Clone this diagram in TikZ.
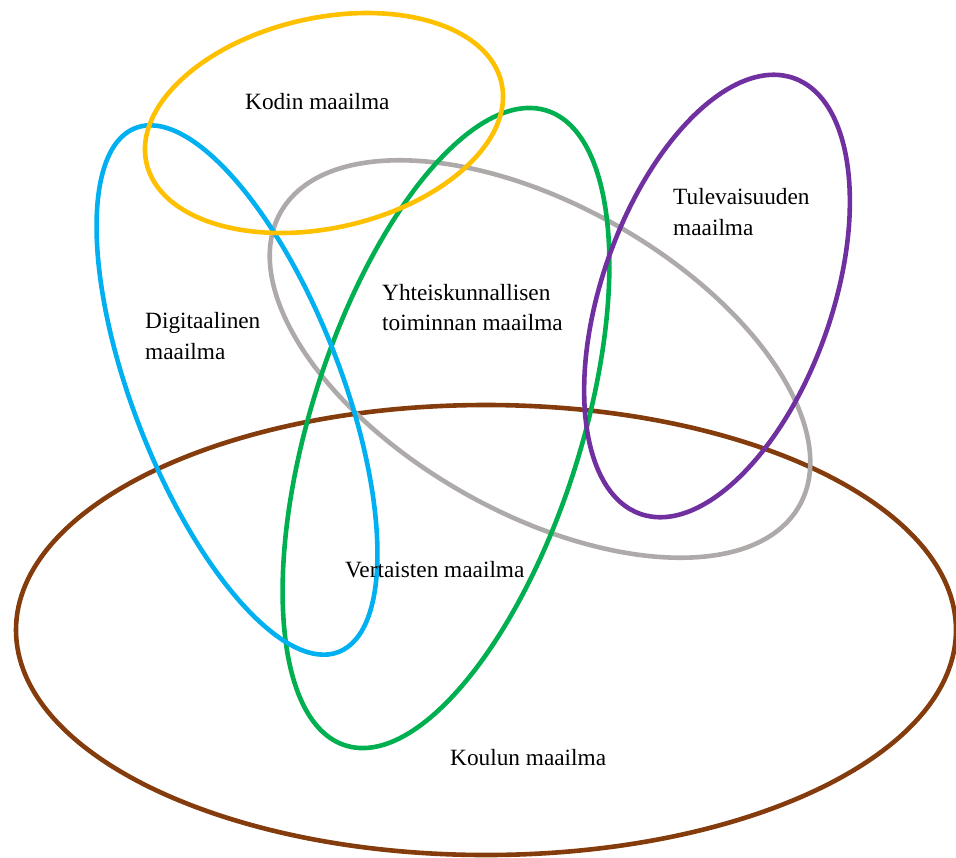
\documentclass[tikz,border=0pt]{standalone}
\usepackage{fontspec}
\setmainfont{Liberation Serif}
\definecolor{cyellow}{HTML}{FFC000}
\definecolor{cblue}{HTML}{00B0F0}
\definecolor{cgreen}{HTML}{00B050}
\definecolor{cpurple}{HTML}{7030A0}
\definecolor{cgray}{HTML}{AEAAAA}
\definecolor{cbrown}{HTML}{843C0C}
\tikzset{
  ring/.style={line width=4.6pt},
  lbl/.style={anchor=base west, inner sep=0pt, font=\fontsize{23.3pt}{31pt}\selectfont, text=black}
}
\begin{document}
\begin{tikzpicture}[x=1pt,y=1pt]
\useasboundingbox (0,0) rectangle (956,-857);
% Koulun maailma
\draw[ring, cbrown, shift={(486,-630)}] (0,0) ellipse [x radius=470, y radius=225];
% Yhteiskunnallisen toiminnan maailma (gray)
\draw[ring, cgray, shift={(540,-359)}, rotate=-29.5] (0,0) ellipse [x radius=298, y radius=154];
% green
\draw[ring, cgreen, shift={(446,-428)}, rotate=72.4] (0,0) ellipse [x radius=333, y radius=135];
% blue
\draw[ring, cblue, shift={(237,-390)}, rotate=-68.8] (0,0) ellipse [x radius=281, y radius=104];
% purple
\draw[ring, cpurple, shift={(717,-296)}, rotate=70.6] (0,0) ellipse [x radius=231, y radius=115];
% yellow
\draw[ring, cyellow, shift={(324,-123)}, rotate=12.7] (0,0) ellipse [x radius=182, y radius=105];
% labels
\node[lbl] (kodin) at (245,-109) {Kodin maailma};
\node[lbl] (tul1) at (673,-204) {Tulevaisuuden};
\node[lbl] (tul2) at (673,-235) {maailma};
\node[lbl] (yht1) at (382,-300) {Yhteiskunnallisen};
\node[lbl] (yht2) at (382,-330) {toiminnan maailma};
\node[lbl] (dig1) at (145,-328) {Digitaalinen};
\node[lbl] (dig2) at (145,-359) {maailma};
\node[lbl] (vert) at (345,-577) {Vertaisten maailma};
\node[lbl] (koul) at (450,-765) {Koulun maailma};
\end{tikzpicture}
\end{document}
